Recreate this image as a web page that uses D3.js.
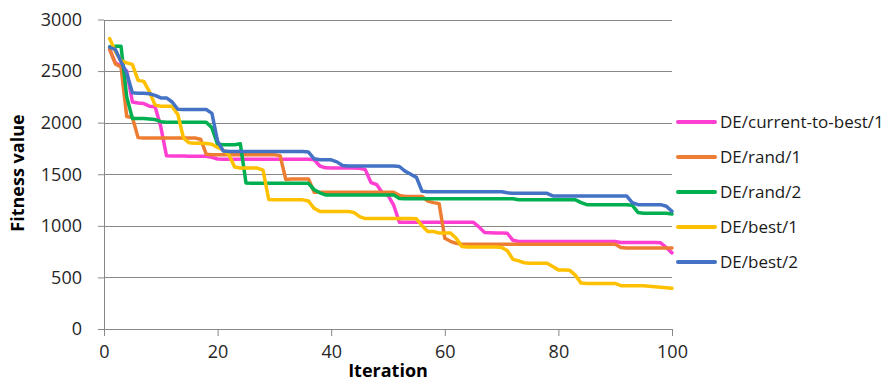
<!DOCTYPE html>
<html><head><meta charset="utf-8">
<script src="https://cdn.jsdelivr.net/npm/d3@7"></script>
<style>
body{margin:0;background:#fff}
svg{display:block}
text{font-family:"Open Sans",sans-serif}
</style>
</head><body>
<svg id="chart" width="890" height="384"></svg>
<script>
// ---- data ----
const iterations = d3.range(1, 101);
const seriesNames = ["DE/current-to-best/1", "DE/rand/1", "DE/rand/2", "DE/best/1", "DE/best/2"];
const seriesColors = ["#FF3FD2", "#ED7D31", "#00B050", "#FFC000", "#4472C4"];

const currentToBest1 = [
  2710,2580,2550,2500,2200,2190,2185,2160,2155,1960,
  1680,1678,1676,1676,1675,1675,1675,1674,1665,1648,
  1645,1645,1645,1645,1645,1645,1645,1645,1645,1645,
  1645,1645,1645,1645,1645,1645,1640,1580,1562,1560,
  1560,1560,1560,1560,1558,1545,1420,1400,1320,1295,
  1200,1035,1035,1035,1035,1035,1035,1035,1035,1035,
  1035,1035,1035,1035,1035,990,935,932,930,930,
  928,860,848,848,848,848,848,848,848,848,
  848,848,848,848,848,848,848,848,848,848,
  838,838,838,838,838,838,838,835,790,738
];
const rand1 = [
  2710,2570,2540,2060,2050,1855,1852,1852,1852,1852,
  1852,1852,1852,1852,1852,1852,1840,1695,1690,1690,
  1690,1690,1690,1690,1690,1690,1690,1690,1690,1690,
  1680,1450,1455,1455,1455,1455,1325,1325,1325,1325,
  1325,1325,1325,1325,1325,1325,1325,1325,1325,1325,
  1325,1295,1285,1285,1285,1285,1240,1225,1215,880,
  850,830,822,822,822,822,822,822,822,822,
  822,822,822,822,822,822,822,822,822,822,
  822,822,822,822,822,822,822,822,822,822,
  790,785,785,785,785,785,785,785,785,785
];
const rand2 = [
  2735,2740,2740,2250,2040,2040,2040,2035,2030,2010,
  2003,2003,2003,2003,2003,2003,2003,2003,1950,1790,
  1786,1786,1786,1795,1415,1412,1412,1412,1412,1412,
  1412,1412,1412,1412,1412,1412,1350,1320,1300,1300,
  1300,1300,1300,1300,1300,1300,1300,1300,1300,1300,
  1300,1265,1262,1262,1262,1262,1262,1262,1262,1262,
  1262,1262,1262,1262,1262,1262,1262,1262,1262,1262,
  1262,1262,1252,1252,1252,1252,1252,1252,1252,1252,
  1252,1252,1252,1225,1205,1205,1205,1205,1205,1205,
  1205,1205,1200,1130,1122,1122,1122,1122,1122,1115
];
const best1 = [
  2815,2690,2600,2580,2565,2410,2400,2300,2170,2160,
  2158,2158,2080,1850,1805,1800,1800,1798,1790,1760,
  1735,1690,1570,1560,1560,1560,1560,1540,1255,1252,
  1252,1252,1252,1252,1252,1240,1170,1140,1140,1140,
  1140,1140,1140,1130,1090,1070,1070,1070,1070,1070,
  1070,1070,1070,1070,1068,1000,945,945,930,930,
  930,880,800,795,795,795,795,795,795,790,
  760,675,660,642,638,638,638,638,605,573,
  572,570,520,445,442,442,442,442,442,442,
  420,420,420,420,420,415,410,405,400,395
];
const best2 = [
  2730,2710,2590,2480,2290,2285,2285,2280,2265,2240,
  2240,2200,2130,2127,2127,2127,2127,2127,2090,1820,
  1725,1720,1720,1720,1720,1720,1720,1720,1720,1720,
  1720,1720,1720,1720,1720,1715,1650,1640,1640,1640,
  1620,1585,1580,1580,1580,1580,1580,1580,1580,1580,
  1580,1575,1530,1500,1470,1335,1330,1330,1330,1330,
  1330,1330,1330,1330,1330,1330,1330,1330,1330,1330,
  1320,1315,1315,1315,1315,1315,1315,1315,1290,1290,
  1290,1290,1290,1290,1290,1290,1290,1290,1290,1290,
  1290,1290,1225,1205,1205,1205,1205,1205,1190,1140
];
const seriesValues = [currentToBest1, rand1, rand2, best1, best2];
const xTickValues = [0, 20, 40, 60, 80, 100];
const yTickValues = [0, 500, 1000, 1500, 2000, 2500, 3000];
const xTitle = "Iteration";
const yTitle = "Fitness value";

// ---- chart ----
const svg = d3.select("#chart");
const x = d3.scaleLinear().domain([0, 100]).range([104, 672]);
const y = d3.scaleLinear().domain([0, 3000]).range([329, 19.5]);
const gridColor = "#878787";

// gridlines
svg.append("g").selectAll("line")
  .data(yTickValues.filter(d => d > 0))
  .join("line")
  .attr("x1", x(0)).attr("x2", x(100))
  .attr("y1", d => Math.round(y(d)) + 0.5).attr("y2", d => Math.round(y(d)) + 0.5)
  .attr("stroke", gridColor).attr("stroke-width", 1);

// y axis
const yAxis = svg.append("g")
  .attr("transform", `translate(${x(0)},0)`)
  .call(d3.axisLeft(y).tickValues(yTickValues).tickSize(6).tickSizeOuter(0).tickPadding(16).tickFormat(d3.format("d")));
// x axis
const xAxis = svg.append("g")
  .attr("transform", `translate(0,${y(0)})`)
  .call(d3.axisBottom(x).tickValues(xTickValues).tickSize(7).tickSizeOuter(0).tickPadding(9).tickFormat(d3.format("d")));

[yAxis, xAxis].forEach(g => {
  g.select(".domain").attr("stroke", gridColor);
  g.selectAll(".tick line").attr("stroke", gridColor);
  g.selectAll(".tick text").attr("fill", "#262626").style("font-size", "18px").style("font-family", '"Open Sans",sans-serif');
});

// series lines
const line = d3.line()
  .x((d, i) => x(iterations[i]))
  .y(d => y(d))
  .curve(d3.curveLinear);

svg.append("g").selectAll("path")
  .data(seriesValues)
  .join("path")
  .attr("d", d => line(d))
  .attr("fill", "none")
  .attr("stroke", (d, i) => seriesColors[i])
  .attr("stroke-width", 3.5)
  .attr("stroke-linejoin", "round")
  .attr("stroke-linecap", "round");

// axis titles
svg.append("text")
  .attr("x", 388).attr("y", 377)
  .attr("text-anchor", "middle")
  .style("font-weight", "bold").style("font-size", "18px")
  .attr("fill", "#000")
  .text(xTitle);
svg.append("text")
  .attr("transform", "translate(24,173) rotate(-90)")
  .attr("text-anchor", "middle")
  .style("font-weight", "bold").style("font-size", "18px")
  .attr("fill", "#000")
  .text(yTitle);

// legend
const legend = svg.append("g").selectAll("g")
  .data(seriesNames)
  .join("g")
  .attr("transform", (d, i) => `translate(677,${122 + i * 35})`);
legend.append("line")
  .attr("x1", 1).attr("x2", 38).attr("y1", 0).attr("y2", 0)
  .attr("stroke", (d, i) => seriesColors[i])
  .attr("stroke-width", 4).attr("stroke-linecap", "round");
legend.append("text")
  .attr("x", 43).attr("y", 0).attr("dy", "0.36em")
  .attr("fill", "#1a1a1a")
  .style("font-size", "17px")
  .text(d => d);
</script>
</body></html>
